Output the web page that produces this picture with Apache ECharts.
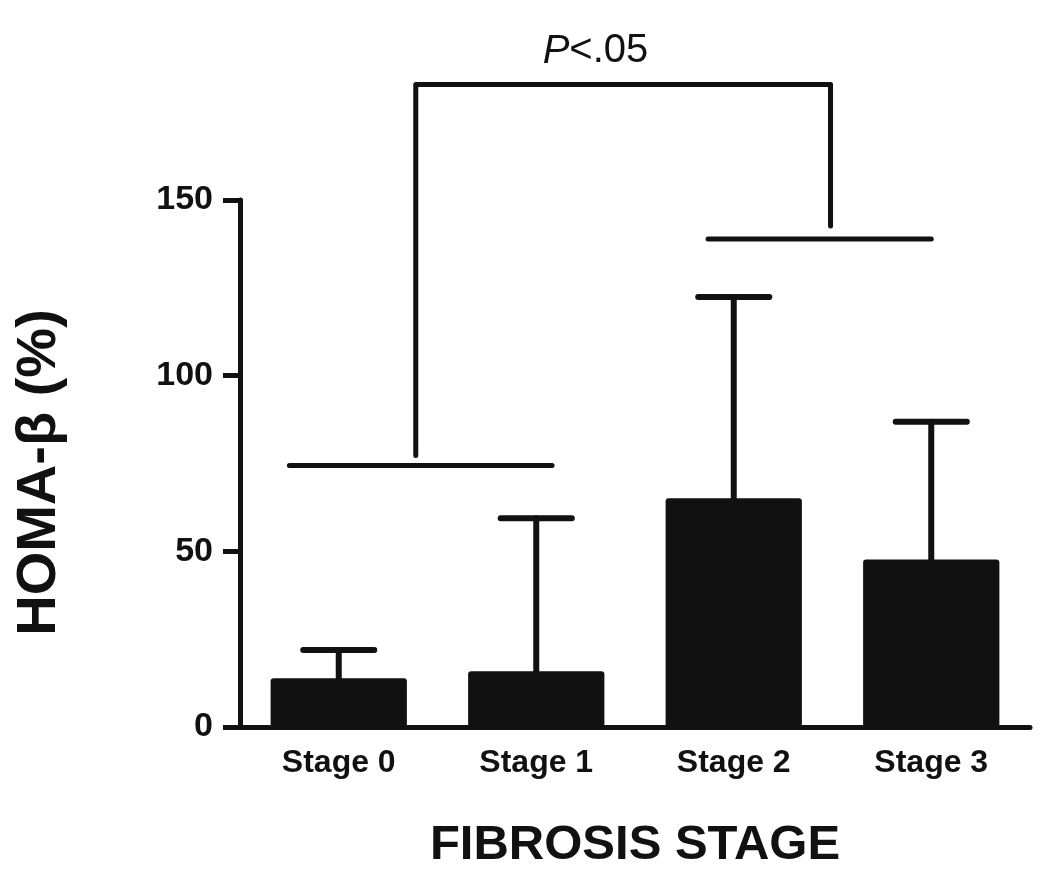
<!DOCTYPE html>
<html>
<head>
<meta charset="utf-8">
<script src="https://cdn.jsdelivr.net/npm/echarts@6/dist/echarts.min.js"></script>
<style>
  html, body { margin: 0; padding: 0; background: #fff; }
  #chart { width: 1050px; height: 894px; }
</style>
</head>
<body>
<div id="chart"></div>
<script>
// ---- data ----
const categories = ['Stage 0', 'Stage 1', 'Stage 2', 'Stage 3'];
const means = [13.9, 15.9, 65.1, 47.7];
const upperSD = [21.9, 59.4, 122.4, 86.9];
const yTickInterval = 50;
const yMax = 150;
// significance annotation (x in category-index units, y in HOMA-β units)
const groupLines = [[-0.25, 1.08, 74.4], [1.87, 3.0, 138.9]];
const bracketPath = [[0.39, 77.3], [0.39, 182.9], [2.49, 182.9], [2.49, 142.6]];
const pLabel = [1.30, 186.6];

const FONT = 'Liberation Sans, Arial, Helvetica, sans-serif';
const INK = '#111111';

const chart = echarts.init(document.getElementById('chart'));

const errData = categories.map((c, i) => [i, means[i], upperSD[i]]);

chart.setOption({
  animation: false,
  backgroundColor: '#ffffff',
  grid: { left: 240, right: 20, top: 200, bottom: 167, containLabel: false },
  xAxis: [
    {
      type: 'category',
      data: categories,
      name: 'FIBROSIS STAGE',
      nameLocation: 'middle',
      nameGap: 94,
      nameTextStyle: { fontFamily: FONT, fontSize: 49, fontWeight: 'bold', color: INK },
      axisLine: { onZero: false, lineStyle: { color: INK, width: 5 } },
      axisTick: { alignWithLabel: true, length: 17, lineStyle: { color: INK, width: 5 } },
      axisLabel: { fontFamily: FONT, fontSize: 32, fontWeight: 'bold', color: INK, margin: 20 },
      splitLine: { show: false }
    },
    {
      type: 'value',
      min: -0.5,
      max: 3.5,
      show: false,
      gridIndex: 0
    }
  ],
  yAxis: {
    type: 'value',
    min: 0,
    max: yMax,
    interval: yTickInterval,
    name: 'HOMA-β (%)',
    nameLocation: 'middle',
    nameRotate: 90,
    nameGap: 172,
    nameTextStyle: { fontFamily: FONT, fontSize: 56, fontWeight: 'bold', color: INK, padding: [0, 18, 0, 0] },
    axisLine: { show: true, onZero: false, lineStyle: { color: INK, width: 5 } },
    axisTick: { show: true, length: 17, lineStyle: { color: INK, width: 5 } },
    axisLabel: { fontFamily: FONT, fontSize: 34, fontWeight: 'bold', color: INK, margin: 27 },
    splitLine: { show: false }
  },
  series: [
    {
      type: 'bar',
      data: means,
      barWidth: '69%',
      itemStyle: { color: INK, borderRadius: 3 },
      z: 3
    },
    {
      type: 'custom',
      data: errData,
      z: 2,
      renderItem: function (params, api) {
        const x = api.value(0), m = api.value(1), u = api.value(2);
        const p0 = api.coord([x, m]);
        const p1 = api.coord([x, u]);
        const half = api.size([1, 0])[0] * 0.18;
        const st = { stroke: INK, lineWidth: 6, lineCap: 'round' };
        return {
          type: 'group',
          children: [
            { type: 'line', shape: { x1: p0[0], y1: p0[1], x2: p1[0], y2: p1[1] }, style: st },
            { type: 'line', shape: { x1: p1[0] - half, y1: p1[1], x2: p1[0] + half, y2: p1[1] }, style: st }
          ]
        };
      }
    },
    {
      type: 'custom',
      xAxisIndex: 1,
      data: [0],
      clip: false,
      z: 4,
      renderItem: function (params, api) {
        const st = { stroke: INK, lineWidth: 5, lineCap: 'round', lineJoin: 'round', fill: null };
        const children = groupLines.map(g => {
          const a = api.coord([g[0], g[2]]);
          const b = api.coord([g[1], g[2]]);
          return { type: 'line', shape: { x1: a[0], y1: a[1], x2: b[0], y2: b[1] }, style: st };
        });
        children.push({
          type: 'polyline',
          shape: { points: bracketPath.map(p => api.coord(p)) },
          style: st
        });
        const t = api.coord(pLabel);
        children.push({
          type: 'text',
          x: t[0], y: t[1],
          style: {
            text: '{i|P}<.05',
            rich: {
              i: { fontFamily: FONT, fontSize: 40, fontStyle: 'italic', fill: INK }
            },
            fontFamily: FONT, fontSize: 40, fill: INK,
            align: 'center', verticalAlign: 'bottom'
          }
        });
        return { type: 'group', children: children };
      }
    }
  ]
});
</script>
</body>
</html>
